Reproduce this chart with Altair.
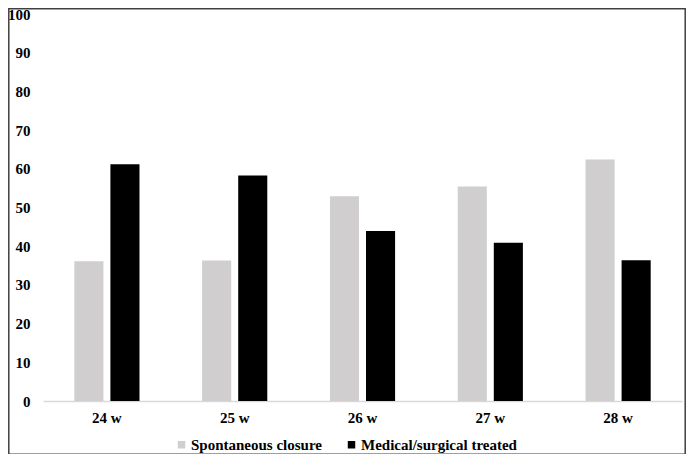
import altair as alt
import pandas as pd

categories = ["24 w", "25 w", "26 w", "27 w", "28 w"]
series = ["Spontaneous closure", "Medical/surgical treated"]
spontaneous = [36.1, 36.3, 52.9, 55.4, 62.4]
treated = [61.2, 58.3, 43.9, 40.9, 36.4]
colors = ["#d0cece", "#000000"]

rows = []
for i, c in enumerate(categories):
    rows.append({"week": c, "group": series[0], "value": spontaneous[i]})
    rows.append({"week": c, "group": series[1], "value": treated[i]})
df = pd.DataFrame(rows)

FONT = "'Times New Roman', 'Liberation Serif', 'DejaVu Serif', serif"

bars = alt.Chart(df).mark_bar().encode(
    x=alt.X("week:N", sort=categories,
            scale=alt.Scale(paddingInner=0.49, paddingOuter=0.245),
            axis=alt.Axis(title=None, labelAngle=0, ticks=False, domain=True,
                          domainColor="#d9d9d9", domainWidth=1.5,
                          labelPadding=9, labelFont=FONT, labelFontSize=15,
                          labelFontWeight="bold", labelColor="#000")),
    xOffset=alt.XOffset("group:N", sort=series,
                        scale=alt.Scale(paddingInner=0.194, paddingOuter=0)),
    y=alt.Y("value:Q", scale=alt.Scale(domain=[0, 100]),
            axis=alt.Axis(title=None, values=list(range(0, 101, 10)), grid=False,
                          domain=False, ticks=False, labelPadding=13,
                          labelFont=FONT, labelFontSize=15, labelFontWeight="bold",
                          labelColor="#000")),
    color=alt.Color("group:N", sort=series,
                    scale=alt.Scale(domain=series, range=colors),
                    legend=alt.Legend(title=None, orient="none", direction="horizontal",
                                      legendX=131, legendY=423, padding=0,
                                      symbolType="square", symbolSize=56,
                                      symbolStrokeWidth=0, labelOffset=2,
                                      columnPadding=21, labelFont=FONT,
                                      labelFontSize=15, labelFontWeight="bold",
                                      labelColor="#000")),
)

border = alt.Chart(pd.DataFrame({"a": [0]})).mark_rect(
    fill=None, stroke="#404040", strokeWidth=1.5
).encode(
    x=alt.value(-34.2), x2=alt.value(642.2), y=alt.value(-5.2), y2=alt.value(440.2)
)

chart = alt.layer(bars, border).properties(
    width=639, height=387,
    autosize=alt.AutoSizeParams(type="none"),
    padding={"left": 35, "top": 6, "right": 4, "bottom": 53},
    background="white",
).configure_view(stroke=None)

chart.save("out.html", embed_options={"renderer": "svg", "actions": False})
